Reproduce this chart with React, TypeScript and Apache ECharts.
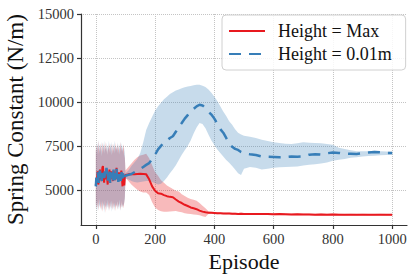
import React, { useEffect, useRef } from "react";
import * as echarts from "echarts";

const FONT = "Liberation Serif";

const X_TICKS = [0, 200, 400, 600, 800, 1000];
const Y_TICKS = [5000, 7500, 10000, 12500, 15000];

const NOISE_EPISODES = [
  0, 2, 4, 6, 8, 10, 12, 14, 16, 18,
  20, 22, 24, 26, 28, 30, 32, 34, 36, 38,
  40, 42, 44, 46, 48, 50, 52, 54, 56, 58,
  60, 62, 64, 66, 68, 70, 72, 74, 76, 78,
  80, 82, 84, 86, 88, 90, 92, 94, 96, 98,
  100,
];
const LATE_EPISODES = [
  110, 120, 130, 140, 150, 160, 170, 180, 190, 200,
  210, 220, 230, 240, 250, 260, 270, 280, 290, 300,
  310, 320, 330, 340, 350, 360, 370, 380, 390, 400,
  410, 420, 430, 440, 450, 460, 470, 480, 490, 500,
  520, 540, 560, 580, 600, 620, 640, 660, 680, 700,
  720, 740, 760, 780, 800, 820, 840, 860, 880, 900,
  920, 940, 960, 980, 1000,
];

// Height = Max (red)
const RED_NOISE_MEAN = [
  5250, 5650, 5500, 6050, 5300, 5450, 5900, 6150, 5600, 5800,
  5500, 6250, 6350, 5850, 5400, 6000, 5800, 5600, 6200, 5700,
  5300, 5900, 5700, 6150, 5400, 5800, 6050, 5650, 5850, 5500,
  6100, 5800, 5550, 5900, 5700, 6250, 5600, 5800, 5500, 6000,
  5700, 5950, 5500, 6100, 5750, 5200, 5900, 5700, 5250, 5750,
  5850,
];
const RED_NOISE_UPPER = [
  7200, 7600, 7000, 7500, 7300, 7800, 7100, 7400, 7650, 6900,
  7350, 7700, 7200, 7500, 7050, 7600, 7300, 7750, 7150, 7450,
  7000, 7550, 7250, 7700, 7100, 7400, 7600, 6950, 7350, 7650,
  7200, 7500, 7050, 7700, 7300, 7450, 7100, 7600, 7250, 7550,
  7000, 7400, 7700, 7200, 7500, 7150, 7350, 7600, 7000, 6800,
  6100,
];
const RED_NOISE_LOWER = [
  4200, 3900, 4400, 4000, 4300, 3800, 4500, 4100, 3900, 4350,
  4000, 3750, 4250, 4050, 4400, 3850, 4150, 3700, 4300, 4000,
  4450, 3900, 4200, 3800, 4350, 4100, 3950, 4400, 4050, 3850,
  4250, 4000, 4300, 3800, 4150, 4050, 4350, 3900, 4200, 4000,
  4450, 4100, 3850, 4300, 4000, 4200, 3950, 4100, 4300, 4600,
  5700,
];
const RED_LATE_MEAN = [
  5880, 5900, 5880, 5900, 5920, 5900, 5880, 5600, 5200, 4950,
  4800, 4780, 4700, 4640, 4600, 4580, 4450, 4330, 4250, 4150,
  4080, 4000, 3950, 3900, 3820, 3760, 3720, 3700, 3690, 3680,
  3670, 3670, 3660, 3650, 3660, 3640, 3640, 3630, 3640, 3630,
  3630, 3620, 3630, 3620, 3610, 3620, 3610, 3600, 3610, 3600,
  3600, 3590, 3600, 3590, 3600, 3590, 3580, 3590, 3580, 3590,
  3580, 3580, 3590, 3580, 3580,
];
const RED_LATE_UPPER = [
  6300, 6500, 6700, 6850, 6950, 7000, 7050, 6800, 6400, 6000,
  5800, 5550, 5400, 5250, 5150, 5050, 4950, 4900, 4750, 4650,
  4550, 4480, 4430, 4380, 4250, 4100, 3950, 3780, 3760, 3740,
  3730, 3720, 3710, 3700, 3710, 3690, 3690, 3680, 3690, 3680,
  3680, 3670, 3680, 3670, 3660, 3670, 3660, 3650, 3660, 3650,
  3650, 3640, 3650, 3640, 3650, 3640, 3630, 3640, 3630, 3640,
  3630, 3630, 3640, 3630, 3630,
];
const RED_LATE_LOWER = [
  5500, 5300, 5150, 5000, 4900, 4850, 4850, 4700, 4300, 4000,
  3850, 3780, 3760, 3760, 3770, 3780, 3790, 3760, 3720, 3670,
  3640, 3620, 3600, 3580, 3550, 3500, 3450, 3620, 3620, 3620,
  3610, 3620, 3610, 3600, 3610, 3590, 3590, 3580, 3590, 3580,
  3580, 3570, 3580, 3570, 3560, 3570, 3560, 3550, 3560, 3550,
  3550, 3540, 3550, 3540, 3550, 3540, 3530, 3540, 3530, 3540,
  3530, 3530, 3540, 3530, 3530,
];

// Height = 0.01m (blue)
const BLUE_NOISE_MEAN = [
  5200, 5700, 5500, 6000, 5800, 5400, 5950, 6100, 5600, 5850,
  5500, 6200, 5700, 5900, 5450, 6050, 5800, 5600, 6250, 5750,
  5500, 5950, 5700, 6100, 5400, 5850, 6000, 5650, 5900, 5500,
  6150, 5800, 5550, 5950, 5700, 6200, 5600, 5850, 5450, 6000,
  5750, 5900, 5500, 6100, 5800, 5650, 5950, 5700, 5850, 5750,
  5800,
];
const BLUE_NOISE_UPPER = [
  7500, 7100, 7700, 7300, 7850, 7000, 7450, 7600, 7200, 7750,
  7300, 7050, 7650, 7400, 7800, 7150, 7500, 7250, 7700, 7000,
  7550, 7350, 7800, 7100, 7450, 7650, 7200, 7750, 7300, 7050,
  7600, 7400, 7800, 7150, 7500, 7250, 7700, 7350, 7050, 7600,
  7300, 7750, 7150, 7450, 7650, 7250, 7550, 7000, 7400, 6900,
  5950,
];
const BLUE_NOISE_LOWER = [
  3900, 4300, 3750, 4100, 4450, 3850, 4200, 4000, 4350, 3800,
  4100, 4400, 3900, 4250, 3700, 4150, 4000, 4350, 3850, 4200,
  3950, 4400, 3800, 4100, 4300, 3900, 4250, 3750, 4050, 4400,
  3950, 4150, 3800, 4300, 4000, 4200, 3850, 4350, 4100, 3900,
  4250, 3800, 4150, 4000, 4400, 3950, 4200, 4050, 4300, 4500,
  5650,
];
const BLUE_LATE_MEAN = [
  5850, 5900, 6000, 6100, 6180, 6300, 6420, 6520, 6750, 7000,
  7300, 7500, 7700, 7800, 7950, 8050, 8300, 8580, 8800, 9050,
  9250, 9450, 9600, 9750, 9840, 9800, 9650, 9450, 9280, 9050,
  8750, 8450, 8250, 7950, 7620, 7450, 7330, 7270, 7150, 7080,
  7020, 6980, 6900, 6880, 6870, 6850, 6870, 6900, 6880, 6900,
  7000, 7030, 7000, 7080, 7120, 7100, 7060, 7050, 7040, 7080,
  7120, 7150, 7130, 7100, 7100,
];
const BLUE_LATE_UPPER = [
  6100, 6350, 6550, 6750, 7100, 7700, 8400, 8800, 9150, 9500,
  9750, 9950, 10150, 10300, 10450, 10550, 10650, 10700, 10780, 10830,
  10870, 10900, 10950, 10980, 10980, 10920, 10850, 10700, 10520, 10300,
  10050, 9750, 9450, 9200, 8900, 8700, 8450, 8250, 8150, 8080,
  8020, 7950, 7850, 7780, 7700, 7660, 7620, 7600, 7650, 7700,
  7680, 7660, 7650, 7600, 7560, 7400, 7320, 7250, 7200, 7200,
  7200, 7220, 7200, 7180, 7170,
];
const BLUE_LATE_LOWER = [
  5600, 5500, 5450, 5420, 5450, 5480, 5500, 5500, 5450, 5380,
  5300, 5350, 5500, 5700, 5950, 6150, 6400, 6700, 7000, 7250,
  7500, 7800, 8200, 8550, 8800, 8750, 8500, 8150, 7800, 7550,
  7300, 7100, 6900, 6700, 6540, 6350, 6150, 5950, 5850, 6200,
  6300, 6250, 6150, 6200, 6250, 6280, 6300, 6310, 6330, 6380,
  6420, 6460, 6500, 6560, 6650, 6710, 6760, 6820, 6860, 6890,
  6920, 6940, 6960, 6980, 6990,
];

const RED = "#e8191f";
const BLUE = "#377eb8";
const RED_FILL = "rgba(232, 25, 31, 0.3)";
const BLUE_FILL = "rgba(55, 126, 184, 0.28)";

const EPISODES = NOISE_EPISODES.concat(LATE_EPISODES);

function band(name: string, lo: number[], hi: number[], fill: string) {
  return {
    type: "custom",
    name,
    silent: true,
    z: 1,
    data: EPISODES.map((x, i) => [x, lo[i], hi[i]]),
    encode: { x: 0, y: [1, 2] },
    renderItem: (params: any, api: any) => {
      if (params.dataIndex !== 0) return null;
      const pts: number[][] = [];
      for (let i = 0; i < EPISODES.length; i++) pts.push(api.coord([EPISODES[i], hi[i]]));
      for (let i = EPISODES.length - 1; i >= 0; i--) pts.push(api.coord([EPISODES[i], lo[i]]));
      return { type: "polygon", shape: { points: pts }, style: { fill } };
    },
  };
}

export default function App() {
  const ref = useRef<HTMLDivElement>(null);
  useEffect(() => {
    if (!ref.current) return;
    const chart = echarts.init(ref.current, null, { renderer: "svg" });
    const redMean = RED_NOISE_MEAN.concat(RED_LATE_MEAN);
    const blueMean = BLUE_NOISE_MEAN.concat(BLUE_LATE_MEAN);
    const axisLineStyle = { color: "#333", width: 1.2 };
    const tickLabel = {
      fontFamily: FONT,
      fontSize: 14.5,
      color: "#333",
      formatter: (v: number) => String(v),
    };
    chart.setOption({
      animation: false,
      textStyle: { fontFamily: FONT },
      grid: { left: 81, top: 14, width: 326, height: 211, containLabel: false, outerBoundsMode: "none" },
      xAxis: {
        type: "value",
        min: -50,
        max: 1050,
        name: "Episode",
        nameLocation: "middle",
        nameGap: 25,
        nameTextStyle: { fontFamily: FONT, fontSize: 22, color: "#111" },
        axisLine: { show: true, onZero: false, lineStyle: axisLineStyle },
        axisTick: { show: true, length: 4, customValues: X_TICKS, lineStyle: axisLineStyle },
        axisLabel: { ...tickLabel, customValues: X_TICKS, margin: 6 },
        splitLine: { show: true, lineStyle: { type: "dotted", color: "#c4c4c4", width: 1 } },
      },
      yAxis: {
        type: "value",
        min: 3000,
        max: 15000,
        name: "Spring Constant (N/m)",
        nameLocation: "middle",
        nameGap: 53,
        nameTextStyle: { fontFamily: FONT, fontSize: 23, color: "#111" },
        axisLine: { show: true, onZero: false, lineStyle: axisLineStyle },
        axisTick: { show: true, length: 4, customValues: Y_TICKS, lineStyle: axisLineStyle },
        axisLabel: { ...tickLabel, customValues: Y_TICKS, margin: 7 },
        splitLine: { show: true, lineStyle: { type: "dotted", color: "#c4c4c4", width: 1 } },
      },
      legend: {
        data: ["Height = Max", "Height = 0.01m"],
        orient: "vertical",
        left: 222,
        top: 15,
        padding: [6, 14, 6, 6],
        itemGap: 3,
        itemWidth: 36,
        itemHeight: 14,
        borderColor: "#d0d0d0",
        borderWidth: 1,
        borderRadius: 4,
        backgroundColor: "rgba(255,255,255,0.85)",
        itemStyle: { opacity: 0 },
        textStyle: { fontFamily: FONT, fontSize: 18, color: "#111", lineHeight: 20, padding: [0, 0, 0, 8] },
      },
      series: [
        band("redBand", RED_NOISE_LOWER.concat(RED_LATE_LOWER), RED_NOISE_UPPER.concat(RED_LATE_UPPER), RED_FILL),
        band("blueBand", BLUE_NOISE_LOWER.concat(BLUE_LATE_LOWER), BLUE_NOISE_UPPER.concat(BLUE_LATE_UPPER), BLUE_FILL),
        {
          type: "line",
          name: "Height = Max",
          data: EPISODES.map((x, i) => [x, redMean[i]]),
          symbol: "none",
          showSymbol: false,
          color: RED,
          lineStyle: { color: RED, width: 2 },
          z: 3,
        },
        {
          type: "line",
          name: "Height = 0.01m",
          data: EPISODES.map((x, i) => [x, blueMean[i]]),
          symbol: "none",
          showSymbol: false,
          color: BLUE,
          lineStyle: { color: BLUE, width: 2.5, type: [12, 8] },
          z: 4,
        },
      ],
    });
    return () => chart.dispose();
  }, []);
  return (
    <div
      ref={ref}
      style={{ position: "absolute", left: 0, top: 0, width: 416, height: 279, background: "#fff" }}
    />
  );
}
